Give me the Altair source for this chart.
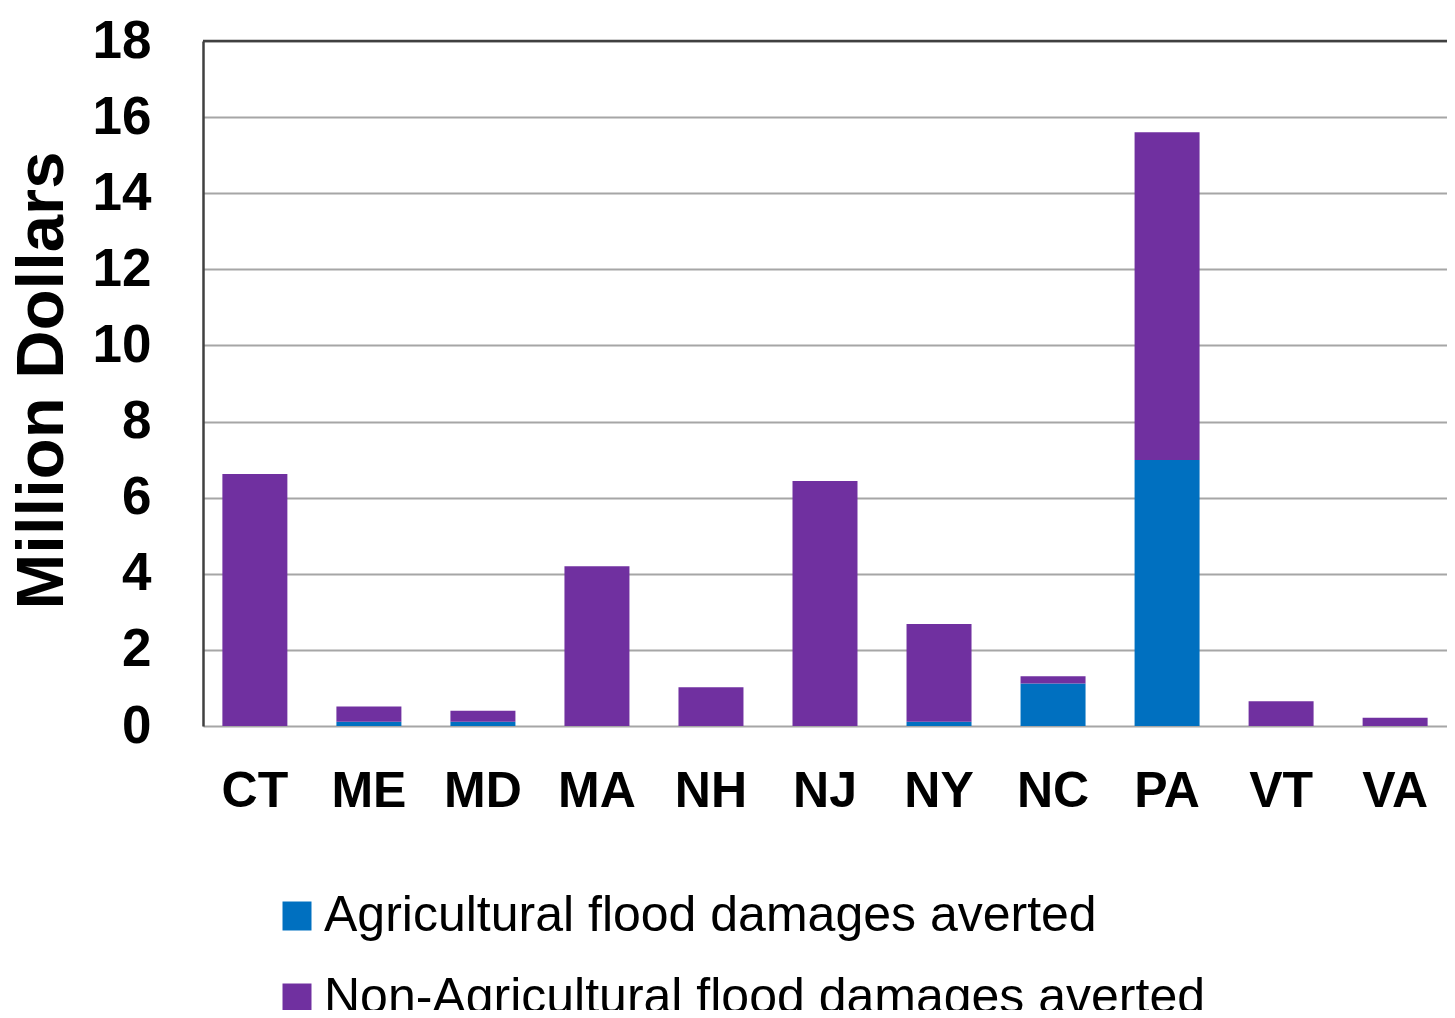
import altair as alt
import pandas as pd

states = ["CT", "ME", "MD", "MA", "NH", "NJ", "NY", "NC", "PA", "VT", "VA"]
agricultural = [0.0, 0.11, 0.11, 0.0, 0.0, 0.0, 0.11, 1.12, 6.99, 0.0, 0.0]
totals = [6.62, 0.51, 0.40, 4.20, 1.02, 6.44, 2.68, 1.31, 15.6, 0.65, 0.22]
non_agricultural = [round(t - a, 2) for t, a in zip(totals, agricultural)]
series = ["Agricultural flood damages averted", "Non-Agricultural flood damages averted"]
colors = ["#0070C0", "#7030A0"]

rows = []
for s, a, n in zip(states, agricultural, non_agricultural):
    rows.append({"state": s, "series": series[0], "value": a, "ord": 0})
    rows.append({"state": s, "series": series[1], "value": n, "ord": 1})
df = pd.DataFrame(rows)

FONT = "Liberation Sans"

bars = alt.Chart(df).mark_bar().encode(
    x=alt.X("state:N", sort=states, title=None,
            scale=alt.Scale(paddingInner=0.43, paddingOuter=0.17),
            axis=alt.Axis(labelFont=FONT, labelFontWeight="bold", labelFontSize=50,
                          labelColor="black", labelPadding=40, ticks=False,
                          domain=False, labelAngle=0)),
    y=alt.Y("value:Q", stack="zero", title="Million Dollars",
            scale=alt.Scale(domain=[0, 18], nice=False),
            axis=alt.Axis(values=list(range(0, 19, 2)), labelFont=FONT,
                          labelFontWeight="bold", labelFontSize=53, labelColor="black",
                          labelPadding=52, ticks=False, domain=True,
                          domainColor="#404040", domainWidth=2.5,
                          grid=True, gridColor="#A6A6A6", gridWidth=2,
                          titleFont=FONT, titleFontWeight="bold", titleFontSize=67,
                          titleColor="black", titleAngle=270, titleX=-161, titleY=339,
                          titleAlign="center", titleBaseline="middle")),
    color=alt.Color("series:N", scale=alt.Scale(domain=series, range=colors),
                    legend=alt.Legend(title=None, orient="none", legendX=69, legendY=850,
                                      direction="vertical", symbolType="square",
                                      symbolSize=841, symbolStrokeWidth=0,
                                      labelFont=FONT, labelFontSize=50,
                                      labelColor="black", rowPadding=32,
                                      labelLimit=1400, symbolOffset=0, labelOffset=2)),
    order=alt.Order("ord:Q"),
)

top_line = alt.Chart(pd.DataFrame({"y": [18]})).mark_rule(
    color="#404040", strokeWidth=2.5
).encode(y="y:Q")

chart = alt.layer(bars, top_line).properties(
    width=1244, height=685,
    autosize=alt.AutoSizeParams(type="none"),
    padding={"left": 195, "top": 33, "right": 0, "bottom": 284},
).configure_view(stroke=None).configure(background="white")

chart.save("out.html", embed_options={"renderer": "svg", "actions": False})
